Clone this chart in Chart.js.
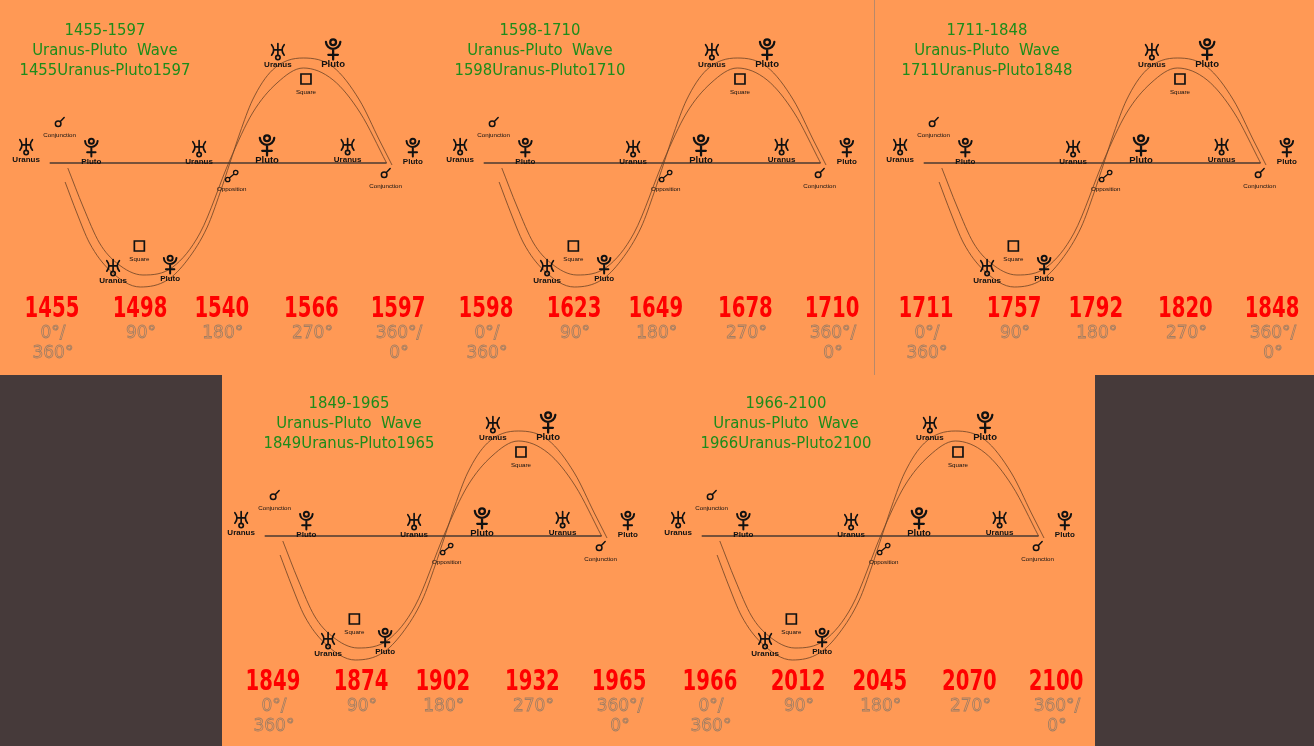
<!DOCTYPE html>
<html>
<head>
<meta charset="utf-8">
<script src="https://cdn.jsdelivr.net/npm/chart.js@4.4.0/dist/chart.umd.min.js"></script>
<style>
  body { margin: 0; width: 1314px; height: 746px; overflow: hidden; position: relative; background: #463a3a; }
  .bg { position: absolute; background: #ff9955; }
  canvas { position: absolute; }
</style>
</head>
<body>
<div class="bg" style="left:0;top:0;width:1314px;height:375px"></div>
<div class="bg" style="left:222px;top:375px;width:873px;height:371px"></div>
<div style="position:absolute;left:874px;top:0;width:1px;height:375px;background:#b8896a"></div>
<canvas id="p0" width="440" height="373" style="left:0;top:0"></canvas>
<canvas id="p1" width="440" height="373" style="left:434px;top:0"></canvas>
<canvas id="p2" width="440" height="373" style="left:874px;top:0"></canvas>
<canvas id="p3" width="440" height="373" style="left:215px;top:373px"></canvas>
<canvas id="p4" width="440" height="373" style="left:652px;top:373px"></canvas>
<script>
// years at 0, 90, 180, 270 and 360 degrees for each wave
const panelYears = [
  [1455, 1498, 1540, 1566, 1597],
  [1598, 1623, 1649, 1678, 1710],
  [1711, 1757, 1792, 1820, 1848],
  [1849, 1874, 1902, 1932, 1965],
  [1966, 2012, 2045, 2070, 2100]
];
const degreeLabels = [['0°/', '360°'], ['90°'], ['180°'], ['270°'], ['360°/', '0°']];

// the two wave lines (x = degrees, y = height above the line)
const outerDeg = [-1, 12, 26, 48, 82, 112, 134, 156, 170, 181, 192, 206, 228, 262, 295, 324, 346, 360];
const outerVal = [-19, -50, -80, -107, -124, -117, -97, -64, -30, 0, 30, 63, 93, 105, 96, 63, 23, -2];
const innerDeg = [2, 19, 37, 56, 85, 118, 148, 181, 206, 233, 262, 295, 325, 354];
const innerVal = [-5, -44, -80, -100, -112, -104, -70, 3, 50, 80, 95, 83, 50, 0];
const baseDeg = [-18, 354];
const baseVal = [0, 0];

// symbols along the wave
const markerKind = ['uranus', 'conjunction', 'pluto', 'uranus', 'pluto', 'uranus', 'pluto',
  'opposition', 'conjunction', 'uranus', 'pluto', 'square', 'square', 'uranus', 'pluto'];
const markerName = ['Uranus', 'Conjunction', 'Pluto', 'Uranus', 'Pluto', 'Uranus', 'Pluto',
  'Opposition', 'Conjunction', 'Uranus', 'Pluto', 'Square', 'Square', 'Uranus', 'Pluto'];
const markerDeg = [-44, -7, 28, 147, 222, 311, 383, 183, 353, 234, 295, 265, 81, 52, 115];
const markerVal = [16, 41, 15, 14, 17, 16, 15, -13, -10, 111, 113, 84, -83, -105, -102];

// layout bits
const labelDeg = [-15.5, 81.7, 172, 271, 366.6];
const labelDx = [0, 0, 0, 6, 6];
const titleDx = [0, 1, 8, 29, 29];
const markerSize = [1.05, 1, 1.05, 1.05, 1.2, 1.05, 1.05, 1, 1, 1.05, 1.2, 1, 1, 1.05, 1.05];
const PX_PER_DEG = 326 / 360;

function glyph(ctx, kind, x, y, s) {
  ctx.save();
  ctx.translate(x, y);
  ctx.scale(s, s);
  ctx.strokeStyle = '#111';
  ctx.lineCap = 'round';
  ctx.beginPath();
  if (kind == 'uranus') {
    ctx.lineWidth = 1.6;
    ctx.moveTo(-6, -7); ctx.quadraticCurveTo(-2, -2, -6, 3);
    ctx.moveTo(6, -7); ctx.quadraticCurveTo(2, -2, 6, 3);
    ctx.moveTo(-4, -2); ctx.lineTo(4, -2);
    ctx.moveTo(0, -8); ctx.lineTo(0, 3.2);
    ctx.stroke();
    ctx.beginPath(); ctx.arc(0, 5.3, 2.1, 0, Math.PI * 2);
  } else if (kind == 'pluto') {
    ctx.lineWidth = 1.9;
    ctx.arc(0, -7, 6, 0.05, Math.PI - 0.05);
    ctx.moveTo(0, -1); ctx.lineTo(0, 8);
    ctx.moveTo(-4, 4); ctx.lineTo(4, 4);
    ctx.stroke();
    ctx.beginPath(); ctx.arc(0, -6.5, 2.4, 0, Math.PI * 2);
  } else if (kind == 'conjunction') {
    ctx.lineWidth = 1.5;
    ctx.arc(-1.5, 1.8, 2.8, 0, Math.PI * 2);
    ctx.moveTo(0.5, -0.3); ctx.lineTo(4.5, -4.5);
  } else if (kind == 'opposition') {
    ctx.lineWidth = 1.3;
    ctx.arc(-4, 3.5, 2.2, 0, Math.PI * 2);
    ctx.moveTo(6.2, -3.5); ctx.arc(4, -3.5, 2.2, 0, Math.PI * 2);
    ctx.moveTo(-2.4, 1.9); ctx.lineTo(2.4, -1.9);
  } else {
    ctx.lineWidth = 1.7;
    ctx.rect(-5, -5, 10, 10);
  }
  ctx.stroke();
  ctx.restore();
}

const waveArt = {
  id: 'waveArt',
  afterDatasetsDraw(chart, args, opts) {
    const ctx = chart.ctx;
    const sx = d => chart.scales.x.getPixelForValue(d);
    const sy = v => chart.scales.y.getPixelForValue(v);
    const p = opts.panel;
    const yrs = panelYears[p];
    ctx.save();
    ctx.textAlign = 'center';
    ctx.textBaseline = 'middle';

    // title
    ctx.fillStyle = '#1d8c1a';
    ctx.font = '16.5px "DejaVu Sans Condensed", "Liberation Sans Narrow", sans-serif';
    const tx = sx(43) + titleDx[p];
    const lines = [yrs[0] + '-' + yrs[4], 'Uranus-Pluto  Wave', yrs[0] + 'Uranus-Pluto' + yrs[4]];
    lines.forEach((t, i) => ctx.fillText(t, tx, sy(132 - i * 20)));

    // symbols
    markerKind.forEach((k, i) => {
      const gx = sx(markerDeg[i]), gy = sy(markerVal[i]);
      glyph(ctx, k, gx, gy, markerSize[i]);
      const big = k == 'uranus' || k == 'pluto';
      ctx.fillStyle = '#111';
      ctx.font = big ? (markerSize[i] > 1.1 ? 'bold 9.5px' : 'bold 8px') + ' "Liberation Sans", Arial, sans-serif'
                     : '6.2px "Liberation Sans", Arial, sans-serif';
      ctx.fillText(markerName[i], gx, gy + (k == 'pluto' ? 14 : 13));
    });

    // years and degrees
    yrs.forEach((yr, i) => {
      const lx = sx(labelDeg[i]) + labelDx[p];
      ctx.save();
      ctx.translate(lx, sy(-147));
      ctx.scale(0.78, 1);
      ctx.fillStyle = '#ff0000';
      ctx.font = 'bold 28px "DejaVu Sans Condensed", "Liberation Sans Narrow", sans-serif';
      ctx.fillText(String(yr), 0, 0);
      ctx.restore();
      ctx.strokeStyle = '#a07e64';
      ctx.lineWidth = 0.8;
      ctx.font = '17px "DejaVu Sans", sans-serif';
      degreeLabels[i].forEach((t, j) => ctx.strokeText(t, lx + 1, sy(-171 - j * 20)));
    });
    ctx.restore();
  }
};

function toPoints(xs, ys) {
  return xs.map((d, i) => ({ x: d, y: ys[i] }));
}

for (let p = 0; p < 5; p++) {
  const w = 440, h = 373;
  new Chart(document.getElementById('p' + p), {
    type: 'line',
    data: {
      datasets: [
        { data: toPoints(baseDeg, baseVal), borderColor: '#4a3a30', borderWidth: 1.6, pointRadius: 0 },
        { data: toPoints(outerDeg, outerVal), borderColor: '#6b4326', borderWidth: 0.8, pointRadius: 0,
          cubicInterpolationMode: 'monotone' },
        { data: toPoints(innerDeg, innerVal), borderColor: '#6b4326', borderWidth: 0.8, pointRadius: 0,
          cubicInterpolationMode: 'monotone' }
      ]
    },
    options: {
      responsive: false,
      animation: false,
      events: [],
      layout: { padding: 0 },
      scales: {
        x: { type: 'linear', display: false, min: -66 / PX_PER_DEG, max: (w - 66) / PX_PER_DEG },
        y: { type: 'linear', display: false, min: 163 - h, max: 163 }
      },
      plugins: {
        legend: { display: false },
        tooltip: { enabled: false },
        waveArt: { panel: p }
      }
    },
    plugins: [waveArt]
  });
}
</script>
</body>
</html>
